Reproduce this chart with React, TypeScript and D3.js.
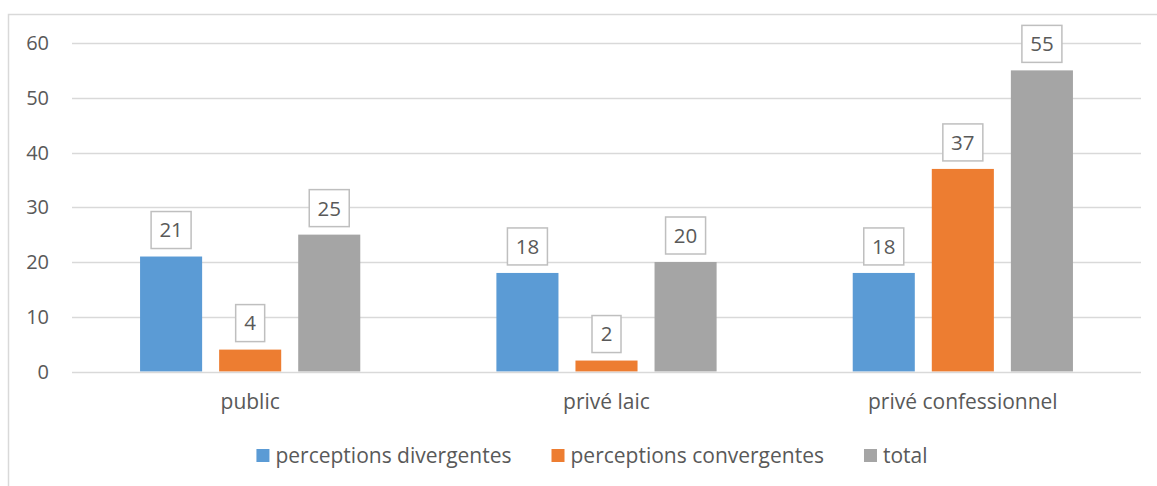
import React, { useEffect, useRef } from "react";
import * as d3 from "d3";

// Category groups along the x axis
const categories = ["public", "privé laic", "privé confessionnel"];
// Series shown in each group
const seriesNames = ["perceptions divergentes", "perceptions convergentes", "total"];
const divergentes = [21, 18, 18];
const convergentes = [4, 2, 37];
const totals = [25, 20, 55];
const yTicks = [0, 10, 20, 30, 40, 50, 60];
const seriesColors = ["#5b9bd5", "#ed7d31", "#a5a5a5"];

const W = 1157;
const H = 486;
const FONT = "'Open Sans', sans-serif";
const TICK_SIZE = 20;
const LABEL_SIZE = 20.5;
const TEXT_SIZE = 21;
const TEXT = "#595959";
const GRID = "#d9d9d9";

export default function App() {
  const ref = useRef<SVGSVGElement>(null);

  useEffect(() => {
    const svg = d3.select(ref.current);
    svg.selectAll("*").remove();
    const values = [divergentes, convergentes, totals];

    // chart frame
    svg
      .append("rect")
      .attr("x", 8.5)
      .attr("y", 14.5)
      .attr("width", W + 40)
      .attr("height", H + 40)
      .attr("fill", "#ffffff")
      .attr("stroke", GRID)
      .attr("stroke-width", 1.5);

    const y = d3.scaleLinear().domain([0, 60]).range([371.5, 43]);
    const x0 = d3
      .scaleBand<string>()
      .domain(categories)
      .range([72, 1141])
      .paddingInner(0.382)
      .paddingOuter(0.191);
    const x1 = d3
      .scaleBand<string>()
      .domain(seriesNames)
      .range([0, x0.bandwidth()])
      .paddingInner(0.215)
      .paddingOuter(0);

    // gridlines
    svg
      .append("g")
      .selectAll("line")
      .data(yTicks.filter((t) => t !== 0))
      .join("line")
      .attr("x1", 72)
      .attr("x2", 1141)
      .attr("y1", (d) => Math.round(y(d)) + 0.5)
      .attr("y2", (d) => Math.round(y(d)) + 0.5)
      .attr("stroke", GRID)
      .attr("stroke-width", 1.3);

    // y tick labels
    svg
      .append("g")
      .selectAll("text")
      .data(yTicks)
      .join("text")
      .attr("x", 49)
      .attr("y", (d) => y(d))
      .attr("dy", "0.36em")
      .attr("text-anchor", "end")
      .attr("font-family", FONT)
      .attr("font-size", TICK_SIZE)
      .attr("fill", TEXT)
      .text((d) => String(d));

    // bars
    const groups = svg
      .append("g")
      .selectAll("g")
      .data(categories)
      .join("g")
      .attr("transform", (c) => `translate(${x0(c)},0)`);

    groups
      .selectAll("rect")
      .data((c, i) => seriesNames.map((s, k) => ({ s, v: values[k][i], color: seriesColors[k] })))
      .join("rect")
      .attr("x", (d) => x1(d.s)!)
      .attr("width", x1.bandwidth())
      .attr("y", (d) => y(d.v))
      .attr("height", (d) => y(0) - y(d.v))
      .attr("fill", (d) => d.color);

    // baseline
    svg
      .append("line")
      .attr("x1", 72)
      .attr("x2", 1141)
      .attr("y1", Math.round(y(0)) + 0.5)
      .attr("y2", Math.round(y(0)) + 0.5)
      .attr("stroke", GRID)
      .attr("stroke-width", 1.3);

    // boxed data labels
    const labels = groups
      .selectAll("g.lbl")
      .data((c, i) => seriesNames.map((s, k) => ({ s, v: values[k][i] })))
      .join("g")
      .attr("class", "lbl")
      .attr("transform", (d) => `translate(${x1(d.s)! + x1.bandwidth() / 2},${y(d.v) - 8})`);

    labels.each(function (d) {
      const g = d3.select(this);
      const box = g.append("rect");
      const t = g
        .append("text")
        .attr("x", 0)
        .attr("y", -18.5)
        .attr("dy", "0.36em")
        .attr("text-anchor", "middle")
        .attr("font-family", FONT)
        .attr("font-size", LABEL_SIZE)
        .attr("fill", TEXT)
        .text(String(d.v));
      const tw = (t.node() as SVGTextElement).getComputedTextLength();
      const bw = Math.round(tw + 17);
      box
        .attr("x", -bw / 2)
        .attr("y", -37)
        .attr("width", bw)
        .attr("height", 37)
        .attr("fill", "#ffffff")
        .attr("stroke", "#bfbfbf")
        .attr("stroke-width", 1.5);
    });

    // category labels
    svg
      .append("g")
      .selectAll("text")
      .data(categories)
      .join("text")
      .attr("x", (c) => x0(c)! + x0.bandwidth() / 2)
      .attr("y", 409)
      .attr("text-anchor", "middle")
      .attr("font-family", FONT)
      .attr("font-size", TEXT_SIZE)
      .attr("fill", TEXT)
      .text((c) => c);

    // legend
    const legend = svg.append("g");
    const items = legend
      .selectAll("g")
      .data(seriesNames)
      .join("g");
    items
      .append("rect")
      .attr("x", 0)
      .attr("y", 449)
      .attr("width", 13)
      .attr("height", 13)
      .attr("fill", (_, k) => seriesColors[k]);
    items
      .append("text")
      .attr("x", 19)
      .attr("y", 463)
      .attr("font-family", FONT)
      .attr("font-size", TEXT_SIZE)
      .attr("fill", TEXT)
      .text((s) => s);
    let cursor = 0;
    const offsets: number[] = [];
    items.each(function () {
      const tw = (d3.select(this).select("text").node() as SVGTextElement).getComputedTextLength();
      offsets.push(cursor);
      cursor += 19 + tw + 40;
    });
    const total = cursor - 40;
    const start = 592 - total / 2;
    items.attr("transform", (_, k) => `translate(${start + offsets[k]},0)`);
  }, []);

  return (
    <svg
      ref={ref}
      width={W}
      height={H}
      style={{ position: "absolute", left: 0, top: 0, background: "#ffffff" }}
    />
  );
}
